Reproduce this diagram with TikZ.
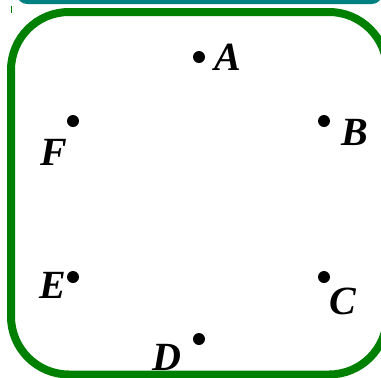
\documentclass[tikz,border=0pt]{standalone}
\usepackage{fontspec}
\setmainfont{Liberation Serif}
\definecolor{mygreen}{RGB}{0,128,0}
\definecolor{myteal}{RGB}{0,128,128}
\begin{document}
\begin{tikzpicture}[x=1pt,y=-1pt,
  dot/.style={circle,fill=black,inner sep=0pt,minimum size=12pt},
  lbl/.style={inner sep=0pt,font=\fontsize{40}{40}\selectfont\bfseries\itshape}]
\useasboundingbox (0,0) rectangle (381,378);
\begin{scope}
\clip (0,0) rectangle (381,378);
\fill[myteal, rounded corners=10pt] (17,-30) rectangle (382,4);
\draw[mygreen, line width=8pt, rounded corners=58pt] (11,12) rectangle (387,374.5);
\end{scope}
\draw[mygreen, line width=1pt] (11.5,6) -- (11.5,13);
\node[dot] (A) at (199,57) {};
\node[dot] (B) at (324,121) {};
\node[dot] (C) at (324,277) {};
\node[dot] (D) at (199,339) {};
\node[dot] (E) at (73,277) {};
\node[dot] (F) at (73,121) {};
\node[lbl] (la) at (228,57) {A};
\node[lbl] (lb) at (355,132) {B};
\node[lbl] (lc) at (343,301) {C};
\node[lbl] (ld) at (167,357) {D};
\node[lbl] (le) at (53,285) {E};
\node[lbl] (lf) at (54,152) {F};
\end{tikzpicture}
\end{document}
